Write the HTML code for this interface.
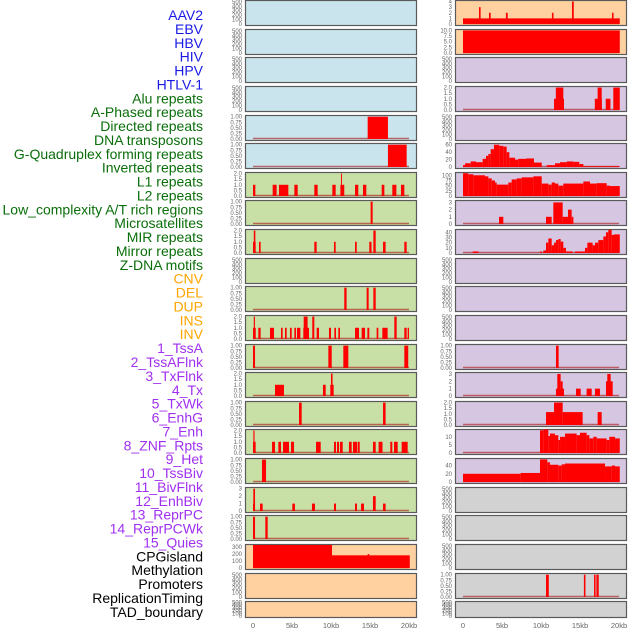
<!DOCTYPE html>
<html><head><meta charset="utf-8"><style>
html,body{margin:0;padding:0;background:#fff;width:630px;height:630px;overflow:hidden}
svg{display:block;font-family:"Liberation Sans",sans-serif}
</style></head><body>
<svg id="chart" width="630" height="630" viewBox="0 0 630 630" xmlns="http://www.w3.org/2000/svg"></svg>
<script>
// ---- data ----
const trackLabels = ["AAV2","EBV","HBV","HIV","HPV","HTLV-1","Alu repeats","A-Phased repeats","Directed repeats","DNA transposons","G-Quadruplex forming repeats","Inverted repeats","L1 repeats","L2 repeats","Low_complexity A/T rich regions","Microsatellites","MIR repeats","Mirror repeats","Z-DNA motifs","CNV","DEL","DUP","INS","INV","1_TssA","2_TssAFlnk","3_TxFlnk","4_Tx","5_TxWk","6_EnhG","7_Enh","8_ZNF_Rpts","9_Het","10_TssBiv","11_BivFlnk","12_EnhBiv","13_ReprPC","14_ReprPCWk","15_Quies","CPGisland","Methylation","Promoters","ReplicationTiming","TAD_boundary"];
const labelGroups = ["v","v","v","v","v","v","r","r","r","r","r","r","r","r","r","r","r","r","r","s","s","s","s","s","c","c","c","c","c","c","c","c","c","c","c","c","c","c","c","o","o","o","o","o"];
const xTicks = [0,5,10,15,20];
const xTickLabels = ["0","5kb","10kb","15kb","20kb"];

const T500=[0,100,200,300,400,500], T1=[0,0.25,0.5,0.75,1], T2=[0,0.5,1,1.5,2], T3=[0,1,2,3];

// left column segments [startKb,endKb,value]
const L4=[[14.7,17.3,1]];
const L5=[[17.3,19.7,1]];
const L6=[[0,0.3,1],[2.52,3.03,1],[3.33,4.53,1],[5.3,5.73,1],[7.86,8.29,1],[10.17,10.6,1],[11.2,11.7,1],[11.28,11.4,2],[13.08,13.5,1],[14.1,14.53,1],[16.5,16.84,1],[17.86,18.38,1],[18.97,19.4,1]];
const L7=[[15.08,15.34,1]];
const L8=[[0,0.34,1],[0.1,0.3,2],[0.77,0.98,1],[7.86,8.16,1],[10.38,10.6,1],[13.08,13.3,1],[14.91,15.2,1],[15.43,15.73,2],[16.67,17.0,1],[19.4,19.7,1]];
const L10=[[11.7,12.0,1],[14.57,14.83,1],[15.43,15.73,1]];
const L11=[[0,0.35,1],[0.1,0.25,2],[0.68,0.98,1],[2.18,2.69,1],[3.59,3.8,1],[4.1,4.32,1],[4.74,4.96,1],[5.3,5.51,1],[5.64,6.07,1],[6.45,7.18,1],[6.5,7.0,2],[7.6,7.86,2],[8.16,8.46,1],[9.74,10.0,1],[10.43,10.64,1],[10.94,11.15,1],[13.08,13.59,1],[13.93,14.36,1],[14.66,14.91,1],[15.85,16.07,1],[16.58,17.26,1],[18.12,18.42,2],[19.4,19.7,1],[19.83,20.0,1]];
const L12=[[0,0.26,1],[9.66,10.09,1],[11.58,12.22,1],[19.4,19.9,1]];
const L13=[[2.82,3.97,1],[8.97,9.32,1],[9.91,10.34,1],[10.0,10.2,2]];
const L14=[[5.9,6.24,1],[16.67,17.0,1]];
const L15=[[0,0.34,1],[0.05,0.2,2],[2.44,2.82,1],[3.25,3.59,1],[3.85,4.62,1],[4.87,5.26,1],[8.08,8.68,1],[10.38,10.64,1],[10.77,11.03,1],[11.15,11.5,1],[12.3,12.65,1],[12.82,13.38,1],[13.46,13.68,1],[15.38,15.73,1],[16.1,16.6,1],[17.6,17.86,1],[18.08,18.55,1],[19.06,19.83,1]];
const L16=[[1.15,1.67,1]];
const L17=[[0,0.26,1],[0.04,0.26,3],[0.9,1.24,1],[5.04,5.38,1],[7.56,7.95,1],[10.38,10.64,1],[13.08,13.33,1],[13.85,14.23,1],[15.38,15.73,2],[16.67,17.0,1]];
const L18=[[0,0.26,1],[1.58,1.88,1]];
const L19=[[0,10.13,330],[10.13,20.1,182],[14.7,14.9,200]];

// right column segments
const R0=[[0,20.1,1],[2.05,2.26,3],[3.33,3.55,2],[5.5,5.73,2],[11.4,11.6,2],[13.97,14.2,4],[19.1,19.3,2]];
const R1=[[0,20.1,10]];
const R3=[[11.67,12.95,1],[11.9,12.86,2],[16.9,17.8,1],[17.26,17.78,2],[18.3,18.9,1],[19.27,20.1,2]];
const R5=[[0,0.26,5],[0.26,0.98,10],[0.98,1.67,15],[1.67,2.52,13],[2.52,2.95,22],[2.95,3.25,30],[3.25,3.55,35],[3.55,3.97,48],[3.97,4.66,60],[4.66,5.17,57],[5.17,5.6,55],[5.6,5.94,40],[5.94,6.67,25],[6.67,7.09,20],[7.09,8.08,22],[8.08,9.1,23],[9.1,10.09,12],[10.73,11.79,5],[11.79,12.44,10],[12.44,13.29,13],[13.29,14.15,15],[14.15,14.91,14],[14.91,15.43,8],[15.43,20.1,2]];
const R6=[[0,0.68,110],[0.68,1.32,105],[1.32,2.82,100],[2.82,3.25,95],[3.25,3.68,85],[3.68,4.1,75],[4.1,4.32,65],[4.32,5.81,55],[5.81,6.24,65],[6.24,6.88,80],[6.88,7.52,85],[7.52,9.02,90],[9.02,10.09,95],[10.09,10.94,60],[10.94,11.37,55],[11.37,11.79,65],[11.79,12.22,60],[12.22,12.86,50],[12.86,15.43,60],[15.43,16.28,70],[16.28,17.14,60],[17.14,18.42,62],[18.42,18.85,50],[18.85,20.1,48]];
const R7=[[4.62,5.17,1],[10.64,11.37,1],[11.58,12.78,3],[12.78,13.5,1],[13.46,13.93,2],[13.93,14.15,1]];
const R8=[[1.24,2.0,3],[9.87,10.09,3],[10.3,10.64,5],[10.64,10.94,20],[10.94,11.37,28],[11.37,11.67,15],[11.67,11.92,20],[11.92,12.22,25],[12.22,12.52,27],[12.52,12.86,22],[12.86,13.2,10],[13.2,14.06,3],[14.36,15.64,3],[15.64,15.94,10],[15.94,16.62,20],[16.62,16.92,15],[16.92,17.35,20],[17.35,17.99,25],[17.99,18.33,32],[18.33,18.63,40],[18.63,19.06,45],[19.06,19.36,35],[19.36,20.1,36]];
const R12=[[11.92,12.26,1]];
const R13=[[11.92,12.95,1],[12.09,12.52,3],[12.52,12.78,2],[14.49,15.09,1],[15.85,16.5,1],[16.92,17.56,1],[18.33,19.19,2],[18.5,18.93,3]];
const R14=[[10.64,11.67,1.15],[11.67,12.78,2],[12.78,15.34,1.15],[17.26,17.78,1.15]];
const R15=[[9.87,10.3,14],[10.3,10.94,14.5],[10.94,11.15,10.5],[11.15,11.79,12],[11.79,12.22,11],[12.22,12.44,8],[12.44,13.08,10],[13.08,14.57,12],[14.57,15.0,11],[15.0,15.85,12.5],[15.85,16.2,11],[16.2,16.71,9],[16.71,17.14,10],[17.14,18.42,9],[18.42,18.76,8],[18.76,19.49,10],[19.49,20.1,9]];
const R16=[[0,7.39,20],[7.39,9.87,22],[9.87,10.81,55],[10.81,11.15,48],[11.15,12.22,42],[12.22,12.65,40],[12.65,13.08,43],[13.08,18.21,45],[18.21,19.06,38],[19.06,19.49,40],[19.49,20.1,38]];
const R20=[[10.64,11.0,1],[15.5,15.7,1],[16.8,17.0,1],[17.1,17.4,1]];

const BG={b:"#c9e4ec",g:"#c8e0a5",o:"#ffd1a1",p:"#d6c6e2",y:"#d2d2d2"};
// [bg, ymax, ticks, decimals, segs]
const leftPanels=[
 ["b",520,T500,0,null],["b",520,T500,0,null],["b",520,T500,0,null],["b",520,T500,0,null],
 ["b",1.03,T1,2,L4],["b",1.03,T1,2,L5],["g",2.05,T2,1,L6],["g",1.03,T1,2,L7],["g",2.05,T2,1,L8],
 ["g",520,T500,0,null],["g",1.03,T1,2,L10],["g",2.05,T2,1,L11],["g",1.03,T1,2,L12],["g",2.05,T2,1,L13],
 ["g",1.03,T1,2,L14],["g",2.05,T2,1,L15],["g",1.03,T1,2,L16],["g",3.1,T3,0,L17],["g",1.03,T1,2,L18],
 ["o",330,[0,100,200,300],0,L19],["o",520,T500,0,null],["o",520,T500,0,null]];
const rightPanels=[
 ["o",4.1,[0,1,2,3,4],0,R0],["o",10.2,[0,2.5,5,7.5,10],1,R1],["p",520,T500,0,null],["p",2.05,T2,1,R3],
 ["p",520,T500,0,null],["p",62,[0,20,40,60],0,R5],["p",111,[0,25,50,75,100],0,R6],["p",3.2,T3,0,R7],
 ["p",44.5,[0,10,20,30,40],0,R8],["p",520,T500,0,null],["p",520,T500,0,null],["p",520,T500,0,null],
 ["p",1.03,T1,2,R12],["p",3.13,T3,0,R13],["p",2.05,T2,1,R14],["p",14.2,[0,5,10],0,R15],["p",56,[0,20,40],0,R16],
 ["y",520,T500,0,null],["y",520,T500,0,null],["y",520,T500,0,null],["y",1.03,T1,2,R20],["y",520,T500,0,null]];

// ---- drawing ----
const NS="http://www.w3.org/2000/svg";
const svg=document.getElementById("chart");
function mk(tag,attrs,parent){const e=document.createElementNS(NS,tag);for(const k in attrs)e.setAttribute(k,attrs[k]);(parent||svg).appendChild(e);return e;}
const COLORS={v:"#1a1ae6",r:"#0a6e0a",s:"#ffa500",c:"#a030f0",o:"#000"};
trackLabels.forEach((t,i)=>{
  const e=mk("text",{x:203,y:15+i*13.88+5,"text-anchor":"end","font-size":"14",fill:COLORS[labelGroups[i]]});
  
  
  e.textContent=t;
});
function rowTop(i){return Math.round(i*28.63);}
function drawColumn(panels,fx,side){
  const x0=fx+8, kbPx=7.8;
  const xs=kb=>x0+kb*kbPx;
  panels.forEach((p,i)=>{
    const [bg,ymax,ticks,dec,segs]=p;
    const top=rowTop(i), h=(i===21?16:25);
    const g=mk("g",{});
    
    
    mk("rect",{x:fx+0.5,y:top+0.5,width:171,height:h,fill:BG[bg],stroke:"#5a5a5a","stroke-width":1.2},g);
    const zero=top+h-1, ph=h-2;
    const ys=v=>zero-v/ymax*ph;
    ticks.forEach(t=>{
      const e=mk("text",{x:fx-3,y:ys(t)+2,"text-anchor":"end","font-size":"6",fill:"#666"},g);
      
      
      e.textContent=t.toFixed(dec);
    });
    if(segs){
      mk("line",{x1:xs(0),x2:xs(20),y1:zero-0.5,y2:zero-0.5,stroke:"#b03030","stroke-width":1.5,opacity:0.7},g);
      segs.forEach(s=>{
        const r=mk("rect",{x:xs(s[0]),y:ys(s[2]),width:Math.max(0.8,xs(s[1])-xs(s[0])),height:zero-ys(s[2]),fill:"#ff0000"},g);
        
        
      });
    }
  });
  xTicks.forEach((t,k)=>{
    const e=mk("text",{x:xs(t),y:628,"text-anchor":"middle","font-size":"7.5",fill:"#666"});
    
    
    e.textContent=xTickLabels[k];
  });
}
drawColumn(leftPanels,245,'left');
drawColumn(rightPanels,455,'right');
</script>
</body></html>
